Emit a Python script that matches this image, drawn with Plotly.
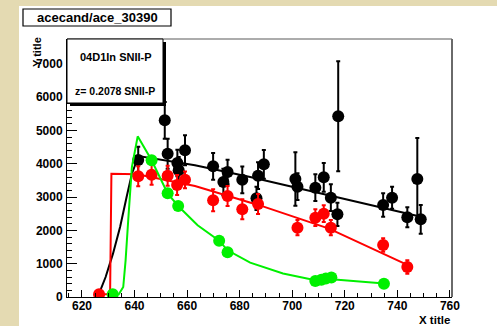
import plotly.graph_objects as go

# ---------------- data ----------------
black_x = [641.4, 651.5, 652.6, 656.3, 656.8, 659.2, 669.9, 675.4, 673.8, 681.0, 686.4, 687.0, 689.2,
           701.2, 702.0, 708.8, 712.0, 714.7, 717.5, 717.2, 734.6, 738.0, 743.8, 747.6, 748.9]
black_y = [4110, 5300, 4300, 4020, 3800, 4400, 3920, 3750, 3450, 3515, 2960, 3640, 3980,
           3540, 3310, 3280, 3590, 2980, 5420, 2480, 2760, 2980, 2390, 3540, 2330]
black_err = [400, 550, 450, 400, 400, 450, 400, 370, 400, 400, 350, 400, 430,
             800, 400, 400, 430, 400, 1650, 350, 350, 330, 300, 1230, 430]

red_x = [626.5, 641.4, 646.5, 652.6, 656.2, 659.2, 669.9, 675.4, 681.0, 687.0, 702.0, 708.8, 712.0, 714.7, 734.6, 743.8]
red_y = [80, 3620, 3670, 3640, 3360, 3515, 2900, 3030, 2630, 2790, 2080, 2380, 2500, 2080, 1560, 900]
red_err = [100, 300, 300, 300, 300, 250, 330, 300, 300, 300, 230, 250, 250, 230, 200, 200]

green_x = [631.7, 646.5, 652.6, 656.6, 672.2, 675.4, 708.8, 711.1, 712.8, 714.9, 734.9]
green_y = [80, 4100, 3110, 2730, 1690, 1340, 480, 520, 555, 585, 400]

black_line_x = [626.5, 629.0, 631.8, 634.5, 637.0, 639.0, 641.5, 663.0, 684.0, 749.0]
black_line_y = [100, 600, 1300, 2100, 3010, 3700, 4230, 3950, 3600, 2410]

red_line_x = [626.5, 630.7, 631.2, 641.0, 663.0, 688.0, 714.0, 744.0]
red_line_y = [80, 80, 3700, 3680, 3330, 2740, 2050, 955]

green_line_x = [631.7, 634.0, 635.7, 636.6, 637.6, 639.0, 641.2, 646.5, 652.6, 656.6, 664.0, 672.2,
                675.4, 684.0, 696.5, 708.8, 715.0, 735.0]
green_line_y = [60, 80, 300, 1100, 2310, 3900, 4820, 4100, 3110, 2730, 2150, 1690,
                1400, 1030, 705, 500, 530, 404]

x_range = [614.3, 760.8]
y_range = [0, 7740]

title_text = "acecand/ace_30390"
legend_line1 = "04D1In SNII-P"
legend_line2 = "z= 0.2078 SNII-P"
x_title = "X title"
y_title = "Y title"

# ---------------- layout geometry (pixels) ----------------
W, H = 497, 326
L, R, T, B = 67, 452, 39, 297


def xp(px):
    return (px - L) / (R - L)


def yp(py):
    return (B - py) / (B - T)


FONT = "Liberation Sans"
BLACK = "#000000"
RED = "#ff0000"
GREEN = "#00f000"
MS = 12

fig = go.Figure()

fig.add_trace(go.Scatter(x=black_x, y=black_y, mode="markers",
                         marker=dict(color=BLACK, size=MS, line=dict(width=0)),
                         error_y=dict(type="data", array=black_err, color=BLACK, thickness=2, width=2),
                         showlegend=False))
fig.add_trace(go.Scatter(x=black_line_x, y=black_line_y, mode="lines",
                         line=dict(color=BLACK, width=2), showlegend=False))
fig.add_trace(go.Scatter(x=red_x, y=red_y, mode="markers",
                         marker=dict(color=RED, size=MS, line=dict(width=0)),
                         error_y=dict(type="data", array=red_err, color=RED, thickness=2, width=2),
                         showlegend=False))
fig.add_trace(go.Scatter(x=red_line_x, y=red_line_y, mode="lines",
                         line=dict(color=RED, width=2), showlegend=False))
fig.add_trace(go.Scatter(x=green_x, y=green_y, mode="markers",
                         marker=dict(color=GREEN, size=MS, line=dict(width=0)),
                         showlegend=False))
fig.add_trace(go.Scatter(x=green_line_x, y=green_line_y, mode="lines",
                         line=dict(color=GREEN, width=2), showlegend=False))

tickfont = dict(family=FONT, size=12, color=BLACK, weight="bold")

fig.update_xaxes(range=x_range, dtick=20, tick0=620, showgrid=False, zeroline=False,
                 showline=True, linecolor=BLACK, linewidth=1,
                 ticks="inside", ticklen=7, tickwidth=1, tickcolor=BLACK,
                 minor=dict(ticks="inside", ticklen=4, dtick=5, tick0=620, tickcolor=BLACK, showgrid=False),
                 tickfont=tickfont, ticklabelstandoff=-2)
fig.update_yaxes(range=y_range, dtick=1000, tick0=0, showgrid=False, zeroline=False,
                 showline=True, linecolor=BLACK, linewidth=1,
                 ticks="inside", ticklen=10, tickwidth=1, tickcolor=BLACK,
                 minor=dict(ticks="inside", ticklen=5, dtick=200, tick0=0, tickcolor=BLACK, showgrid=False),
                 tickfont=tickfont, ticklabelstandoff=1)

shapes = [
    # white pad over textured background
    dict(type="rect", xref="paper", yref="paper", x0=xp(19), x1=xp(W + 2), y0=yp(H + 2), y1=yp(6),
         fillcolor="white", line=dict(width=0), layer="below"),
    # frame top and right
    dict(type="line", xref="paper", yref="paper", x0=0, x1=1, y0=1, y1=1,
         line=dict(color="#909090", width=1.5)),
    dict(type="line", xref="paper", yref="paper", x0=1, x1=1, y0=0, y1=1,
         line=dict(color="#6a6a6a", width=2)),
    # title box
    dict(type="rect", xref="paper", yref="paper", x0=xp(23), x1=xp(171), y0=yp(26), y1=yp(9),
         fillcolor="white", line=dict(color=BLACK, width=1.2)),
    # legend box shadow and box
    dict(type="rect", xref="paper", yref="paper", x0=xp(70), x1=xp(166), y0=yp(106), y1=yp(42),
         fillcolor=BLACK, line=dict(width=0)),
    dict(type="rect", xref="paper", yref="paper", x0=xp(67), x1=xp(163), y0=yp(103), y1=yp(39),
         fillcolor="white", line=dict(color=BLACK, width=1)),
]

annotations = [
    dict(text=title_text, xref="paper", yref="paper", x=xp(97), y=yp(17.5), showarrow=False,
         xanchor="center", yanchor="middle", font=dict(family=FONT, size=13, color=BLACK, weight="bold")),
    dict(text=legend_line1, xref="paper", yref="paper", x=xp(116), y=yp(57), showarrow=False,
         xanchor="center", yanchor="middle", font=dict(family=FONT, size=11, color=BLACK, weight="bold")),
    dict(text=legend_line2, xref="paper", yref="paper", x=xp(114.5), y=yp(90.5), showarrow=False,
         xanchor="center", yanchor="middle", font=dict(family=FONT, size=10.5, color=BLACK, weight="bold")),
    dict(text=x_title, xref="paper", yref="paper", x=xp(452), y=yp(320), showarrow=False,
         xanchor="right", yanchor="middle", font=dict(family=FONT, size=11.5, color=BLACK, weight="bold")),
    dict(text=y_title, xref="paper", yref="paper", x=xp(37.5), y=yp(52.5), showarrow=False, textangle=-90,
         xanchor="center", yanchor="middle", font=dict(family=FONT, size=11, color=BLACK, weight="bold")),
]

fig.update_layout(width=W, height=H, margin=dict(l=L, r=W - R, t=T, b=H - B, pad=0),
                  paper_bgcolor="#e4dab2", plot_bgcolor="white",
                  shapes=shapes, annotations=annotations, showlegend=False)

fig.write_html("out.html")
